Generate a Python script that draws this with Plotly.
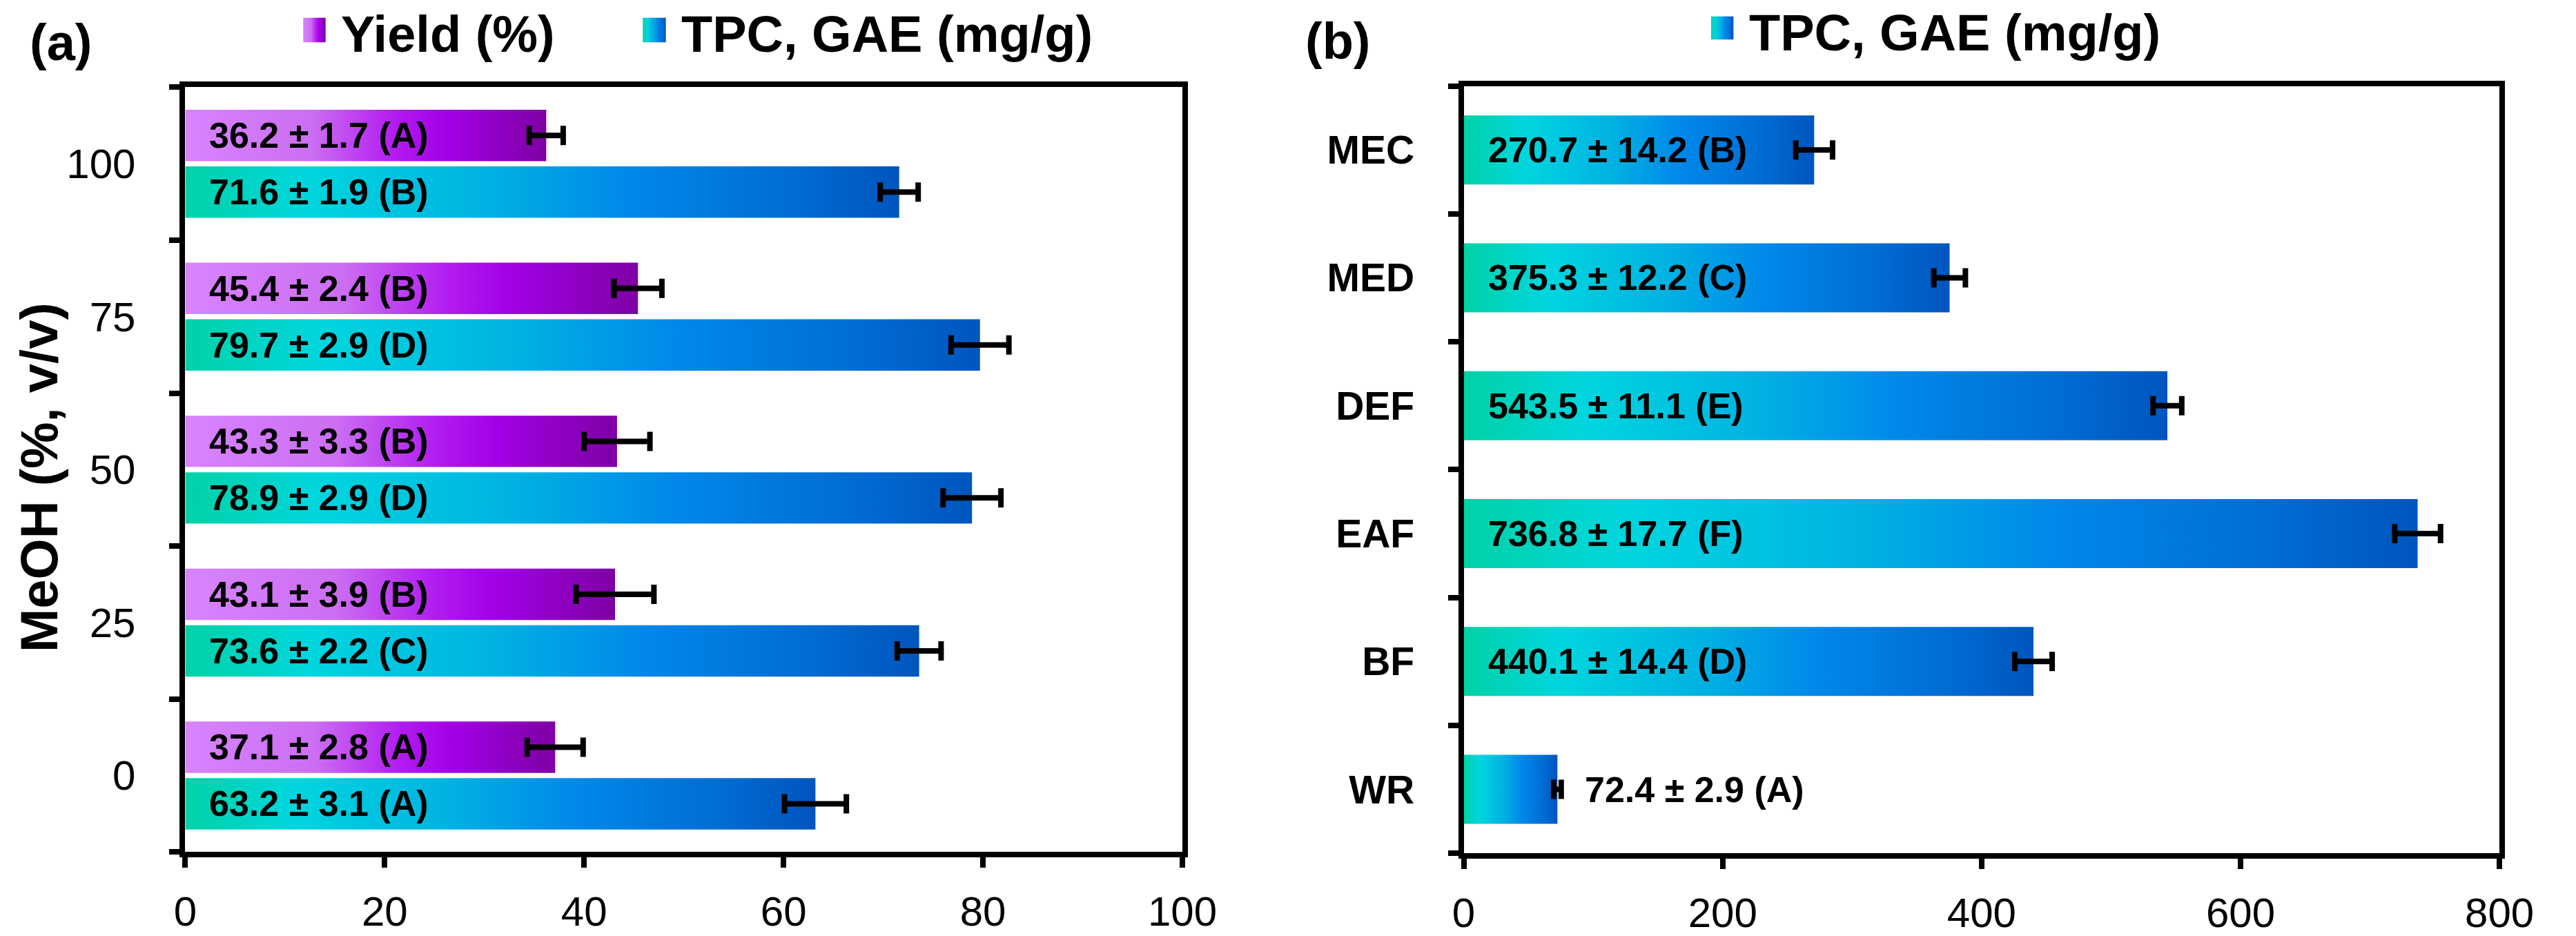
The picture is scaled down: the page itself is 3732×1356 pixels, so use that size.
import plotly.graph_objects as go

# ---------------- data ----------------
meoh_labels = ["0", "25", "50", "75", "100"]
yield_mean = [37.1, 43.1, 43.3, 45.4, 36.2]
yield_sd = [2.8, 3.9, 3.3, 2.4, 1.7]
yield_grp = ["A", "B", "B", "B", "A"]
tpc_a_mean = [63.2, 73.6, 78.9, 79.7, 71.6]
tpc_a_sd = [3.1, 2.2, 2.9, 2.9, 1.9]
tpc_a_grp = ["A", "C", "D", "D", "B"]

fractions = ["WR", "BF", "EAF", "DEF", "MED", "MEC"]
tpc_b_mean = [72.4, 440.1, 736.8, 543.5, 375.3, 270.7]
tpc_b_sd = [2.9, 14.4, 17.7, 11.1, 12.2, 14.2]
tpc_b_grp = ["A", "D", "F", "E", "C", "B"]

x_a_ticks = [0, 20, 40, 60, 80, 100]
x_b_ticks = [0, 200, 400, 600, 800]

legend_yield = "Yield (%)"
legend_tpc = "TPC, GAE (mg/g)"

# ---------------- style ----------------
W, H = 3732, 1356
FONT = "Liberation Sans, Arial, sans-serif"
TPC_SCALE = [[0, "#00D2A6"], [0.17, "#00D6DE"], [0.42, "#00B2E2"],
             [0.62, "#0088EA"], [0.85, "#006CD4"], [1, "#0055BE"]]
YLD_SCALE = [[0, "#D884FF"], [0.35, "#CC6EF2"], [0.58, "#B21CF0"],
             [0.72, "#A200E6"], [1, "#7E00A4"]]

def px_x(p):
    return p / W

def px_y(p):
    return 1 - p / H

fig = go.Figure()

def add_bar(xa, ya, value, center, half, scale):
    fig.add_trace(go.Scatter(
        x=[0, value, value, 0, 0],
        y=[center - half, center - half, center + half, center + half, center - half],
        mode="lines", line=dict(width=0), fill="toself",
        fillgradient=dict(type="horizontal", colorscale=scale),
        xaxis=xa, yaxis=ya, hoverinfo="skip", showlegend=False))

# panel (a)
A_HALF, A_OFF = 0.168, 0.185
for i in range(len(meoh_labels)):
    add_bar("x", "y", yield_mean[i], i + A_OFF, A_HALF, YLD_SCALE)
    add_bar("x", "y", tpc_a_mean[i], i - A_OFF, A_HALF, TPC_SCALE)

err_style = dict(type="data", thickness=8, width=14, color="black")
fig.add_trace(go.Scatter(
    x=yield_mean, y=[i + A_OFF for i in range(len(yield_mean))], mode="markers",
    marker=dict(size=1, opacity=0), error_x=dict(array=yield_sd, **err_style),
    xaxis="x", yaxis="y", showlegend=False, hoverinfo="skip"))
fig.add_trace(go.Scatter(
    x=tpc_a_mean, y=[i - A_OFF for i in range(len(tpc_a_mean))], mode="markers",
    marker=dict(size=1, opacity=0), error_x=dict(array=tpc_a_sd, **err_style),
    xaxis="x", yaxis="y", showlegend=False, hoverinfo="skip"))

# panel (b)
B_HALF = 0.27
for i in range(len(fractions)):
    add_bar("x2", "y2", tpc_b_mean[i], i, B_HALF, TPC_SCALE)
fig.add_trace(go.Scatter(
    x=tpc_b_mean, y=list(range(len(tpc_b_mean))), mode="markers",
    marker=dict(size=1, opacity=0), error_x=dict(array=tpc_b_sd, **err_style),
    xaxis="x2", yaxis="y2", showlegend=False, hoverinfo="skip"))

# legend swatches on a hidden pixel-space overlay axis
def swatch(x0, x1, y0, y1, scale):
    fig.add_trace(go.Scatter(
        x=[x0, x1, x1, x0, x0], y=[y0, y0, y1, y1, y0], mode="lines",
        line=dict(width=0), fill="toself",
        fillgradient=dict(type="horizontal", colorscale=scale),
        xaxis="x3", yaxis="y3", hoverinfo="skip", showlegend=False))

swatch(430, 463, 26, 62, YLD_SCALE)
swatch(931, 965, 26, 62, TPC_SCALE)
swatch(2507, 2540, 24, 58, TPC_SCALE)

annotations = []
lab_font = dict(family=FONT, size=52, color="black", weight="bold")

def bar_label(xref, yref, value, sd, grp, y, xmax):
    text = f"{value:.1f} \u00b1 {sd:.1f} ({grp})"
    if value / xmax < 0.2:
        annotations.append(dict(x=value, y=y, xref=xref, yref=yref, text=text,
                                showarrow=False, xanchor="left", yanchor="middle",
                                xshift=38, font=lab_font))
    else:
        annotations.append(dict(x=0, y=y, xref=xref, yref=yref, text=text,
                                showarrow=False, xanchor="left", yanchor="middle",
                                xshift=33, font=lab_font))

for i in range(len(meoh_labels)):
    bar_label("x", "y", yield_mean[i], yield_sd[i], yield_grp[i], i + A_OFF, x_a_ticks[-1])
    bar_label("x", "y", tpc_a_mean[i], tpc_a_sd[i], tpc_a_grp[i], i - A_OFF, x_a_ticks[-1])
for i in range(len(fractions)):
    bar_label("x2", "y2", tpc_b_mean[i], tpc_b_sd[i], tpc_b_grp[i], i, x_b_ticks[-1])

big = dict(family=FONT, size=74, color="black", weight="bold")
annotations += [
    dict(x=px_x(24), y=px_y(62), xref="paper", yref="paper", text="(a)", showarrow=False,
         xanchor="left", yanchor="middle", font=big),
    dict(x=px_x(1906), y=px_y(60), xref="paper", yref="paper", text="(b)", showarrow=False,
         xanchor="left", yanchor="middle", font=big),
    dict(x=px_x(484), y=px_y(50), xref="paper", yref="paper", text=legend_yield, showarrow=False,
         xanchor="left", yanchor="middle", font=big),
    dict(x=px_x(986), y=px_y(50), xref="paper", yref="paper", text=legend_tpc, showarrow=False,
         xanchor="left", yanchor="middle", font=big),
    dict(x=px_x(2561), y=px_y(48), xref="paper", yref="paper", text=legend_tpc, showarrow=False,
         xanchor="left", yanchor="middle", font=big),
    dict(x=px_x(40), y=px_y(700), xref="paper", yref="paper", text="MeOH (%, v/v)",
         showarrow=False, textangle=-90, xanchor="center", yanchor="middle",
         font=dict(family=FONT, size=76, color="black", weight="bold")),
]

tick_font = dict(family=FONT, size=60, color="black")
xcommon = dict(showline=True, linewidth=8, linecolor="black", mirror=True,
               ticks="outside", ticklen=15, tickwidth=8, tickcolor="black",
               showgrid=False, zeroline=False,
               tickfont=dict(family=FONT, size=60, color="black"),
               ticklabelstandoff=12)

def ycommon(n, font):
    return dict(range=[-0.5, n - 0.5], tickvals=list(range(n)),
                showline=True, linewidth=8, linecolor="black", mirror=True,
                ticks="", showgrid=False, zeroline=False, tickfont=font,
                ticklabelstandoff=52,
                minor=dict(tickvals=[i - 0.5 for i in range(n + 1)],
                           ticks="outside", ticklen=15, tickwidth=8, tickcolor="black",
                           showgrid=False))

fig.update_layout(
    width=W, height=H, margin=dict(l=0, r=0, t=0, b=0),
    paper_bgcolor="white", plot_bgcolor="rgba(0,0,0,0)",
    showlegend=False, annotations=annotations,
    xaxis=dict(domain=[px_x(256), px_x(1727)], range=[0, 100], tickvals=x_a_ticks,
               anchor="y", **xcommon),
    yaxis=dict(domain=[px_y(1249), px_y(128)], ticktext=meoh_labels, anchor="x",
               **ycommon(len(meoh_labels), tick_font)),
    xaxis2=dict(domain=[px_x(2142), px_x(3670)], range=[0, 800], tickvals=x_b_ticks,
                anchor="y2", **xcommon),
    yaxis2=dict(domain=[px_y(1251), px_y(126)], ticktext=fractions, anchor="x2",
                **ycommon(len(fractions),
                          dict(family=FONT, size=57, color="black", weight="bold"))),
    xaxis3=dict(domain=[0, 1], range=[0, W], visible=False, anchor="y3", fixedrange=True),
    yaxis3=dict(domain=[0, 1], range=[H, 0], visible=False, anchor="x3", fixedrange=True),
)

fig.write_html("out.html", config={"displayModeBar": False},
               post_script="document.body.style.margin='0';"
                           "document.body.style.overflow='hidden';")
